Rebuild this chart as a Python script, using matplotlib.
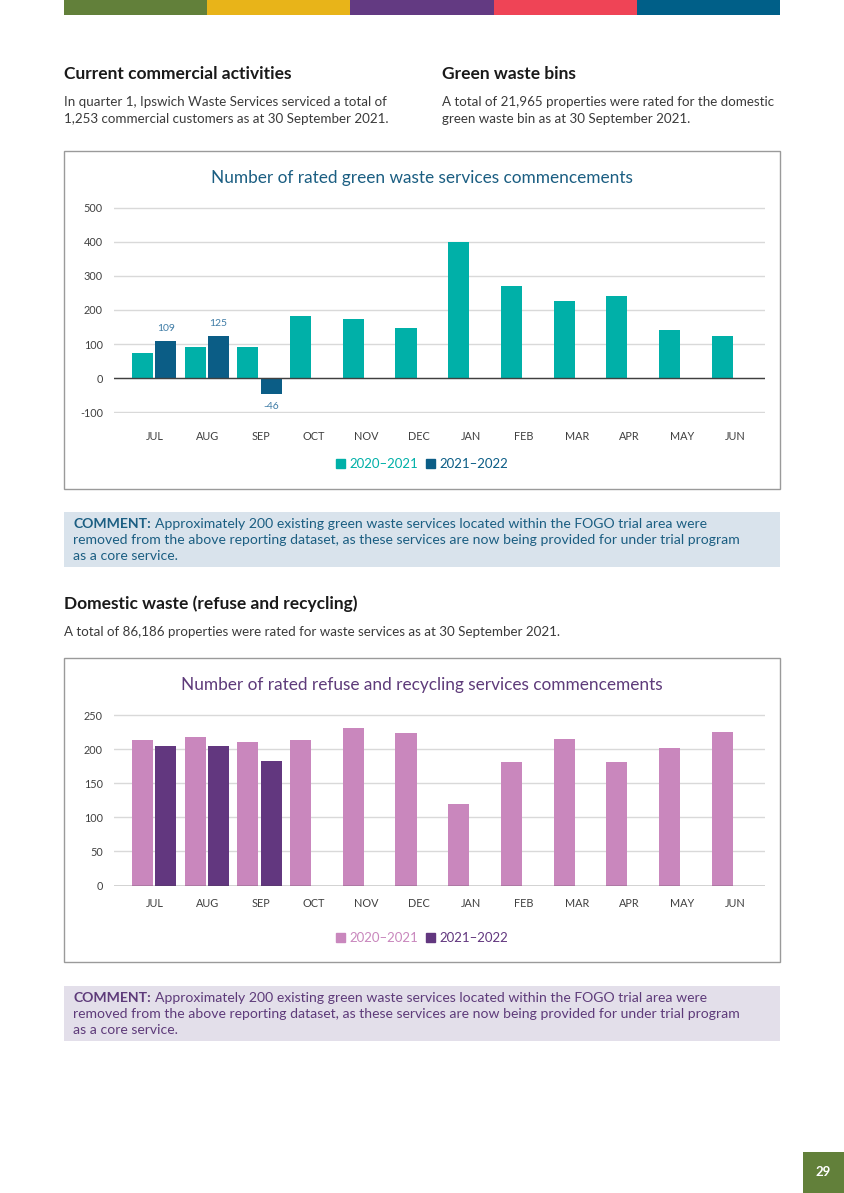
import matplotlib.pyplot as plt
from matplotlib.patches import Rectangle, Patch

plt.rcParams['font.family'] = ['Lato', 'DejaVu Sans']
plt.rcParams['axes.unicode_minus'] = False

months = ["JUL", "AUG", "SEP", "OCT", "NOV", "DEC", "JAN", "FEB", "MAR", "APR", "MAY", "JUN"]
seasons = ["2020\u20132021", "2021\u20132022"]

green_2021 = [75, 92, 93, 182, 174, 147, 400, 270, 225, 242, 142, 125]
green_2122 = [109, 125, -46]
refuse_2021 = [214, 218, 210, 213, 231, 224, 120, 181, 215, 181, 202, 225]
refuse_2122 = [204, 205, 183]

band_colors = ["#62803a", "#e8b419", "#633a82", "#ef4456", "#005f88"]

W, H = 844, 1193
fig = plt.figure(figsize=(W / 100, H / 100), dpi=100)


def fx(px):
    return px / W


def fy(py):
    return 1 - py / H


def rect(x0, y0, x1, y1, **kw):
    fig.patches.append(Rectangle((fx(x0), fy(y1)), (x1 - x0) / W, (y1 - y0) / H,
                                 transform=fig.transFigure, **kw))


def txt(x, y, s, **kw):
    kw.setdefault('va', 'center')
    return fig.text(fx(x), fy(y), s, **kw)


# colour band at the top
seg = (780 - 64) / len(band_colors)
for i, c in enumerate(band_colors):
    rect(64 + i * seg, 0, 64 + (i + 1) * seg, 15, color=c, lw=0)

body = "#3a3a3a"
hsize, bsize = 12.5, 9.6
txt(64, 74, "Current commercial activities", fontsize=hsize, fontweight='bold', color="#1a1a1a")
txt(64, 102, "In quarter 1, Ipswich Waste Services serviced a total of", fontsize=bsize, color=body)
txt(64, 119, "1,253 commercial customers as at 30 September 2021.", fontsize=bsize, color=body)
txt(442, 74, "Green waste bins", fontsize=hsize, fontweight='bold', color="#1a1a1a")
txt(442, 102, "A total of 21,965 properties were rated for the domestic", fontsize=bsize, color=body)
txt(442, 119, "green waste bin as at 30 September 2021.", fontsize=bsize, color=body)


def chart(top, bottom, ax_top, ax_bottom, ylim, yticks, title, c1, c2, title_color,
          v1, v2, legend_y, label_color=None):
    rect(64, top, 780, bottom, fill=False, ec="#9a9a9a", lw=1)
    txt(422, top + 27, title, fontsize=12.4, color=title_color, ha='center')
    ax = fig.add_axes([fx(114), fy(ax_bottom), (765 - 114) / W, (ax_bottom - ax_top) / H])
    x = list(range(len(months)))
    ax.bar([i - 0.24 for i in x], v1, width=0.4, color=c1, zorder=3)
    x2 = x[:len(v2)]
    bars = ax.bar([i + 0.2 for i in x2], v2, width=0.4, color=c2, zorder=3)
    if label_color:
        for b, v in zip(bars, v2):
            off = 9 if v >= 0 else -9
            ax.annotate(str(v), (b.get_x() + b.get_width() / 2, v), xytext=(0, off),
                        textcoords='offset points', ha='center', va='center',
                        fontsize=7.5, color=label_color)
    ax.set_xlim(-0.78, 11.57)
    ax.set_ylim(*ylim)
    ax.set_yticks(yticks)
    ax.set_xticks(x)
    ax.set_xticklabels(months)
    ax.tick_params(length=0, labelsize=7.8, labelcolor="#404040")
    ax.tick_params(axis='y', pad=8)
    ax.tick_params(axis='x', pad=13 if ylim[0] < 0 else 9)
    ax.grid(axis='y', color="#d9d9d9", lw=1, zorder=0)
    ax.axhline(0, color="#404040", lw=1, zorder=4)
    for s in ax.spines.values():
        s.set_visible(False)
    ax.patch.set_visible(False)
    handles = [Patch(color=c1), Patch(color=c2)]
    fig.legend(handles, seasons, loc='center', bbox_to_anchor=(fx(422), fy(legend_y)),
               ncol=2, frameon=False, fontsize=9.5, handlelength=0.7, handleheight=0.7,
               handletextpad=0.3, columnspacing=0.6, labelcolor=[c1, c2])
    return ax


chart(151, 489, 207, 413, (-101.5, 501.5), range(-100, 501, 100),
      "Number of rated green waste services commencements",
      "#00b0a8", "#0b5d86", "#1b5e82", green_2021, green_2122, 464, label_color="#3f7ca6")

chart(658, 962, 714, 885.5, (0, 251.5), range(0, 251, 50),
      "Number of rated refuse and recycling services commencements",
      "#c987bd", "#62377f", "#5e3b7a", refuse_2021, refuse_2122, 938)


def comment(top, bg, color):
    rect(64, top, 780, top + 55, color=bg, lw=0)
    lines = ["Approximately 200 existing green waste services located within the FOGO trial area were",
             "removed from the above reporting dataset, as these services are now being provided for under trial program",
             "as a core service."]
    csize = 10.1
    head = txt(73, top + 12, "COMMENT:", fontsize=csize, fontweight='bold', color=color)
    fig.canvas.draw()
    ext = head.get_window_extent()
    txt(ext.x1 + 4, top + 12, lines[0], fontsize=csize, color=color)
    txt(73, top + 28, lines[1], fontsize=csize, color=color)
    txt(73, top + 44, lines[2], fontsize=csize, color=color)


comment(512, "#d9e3ec", "#1b5e82")
comment(986, "#e3dfea", "#5e3b7a")

txt(64, 604, "Domestic waste (refuse and recycling)", fontsize=hsize, fontweight='bold', color="#1a1a1a")
txt(64, 632, "A total of 86,186 properties were rated for waste services as at 30 September 2021.",
    fontsize=bsize, color=body)

rect(803, 1152, 844, 1193, color="#62803a", lw=0)
txt(823.5, 1172, "29", fontsize=9.5, fontweight='bold', color="white", ha='center')

fig.savefig("out.png", dpi=100)
